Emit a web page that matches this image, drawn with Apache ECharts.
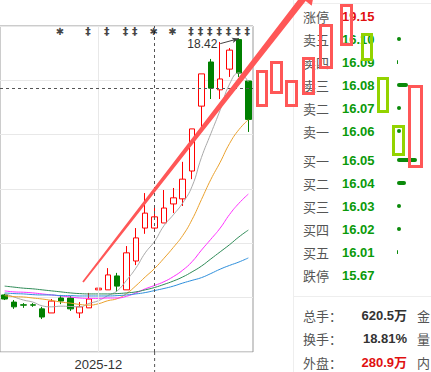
<!DOCTYPE html>
<html><head><meta charset="utf-8">
<script src="https://cdn.jsdelivr.net/npm/echarts@6/dist/echarts.min.js"></script>
<style>html,body{margin:0;padding:0;background:#fff;overflow:hidden}#c{width:431px;height:372px}</style>
</head><body><div id="c"></div>
<script>
// ---------- data ----------
const dates = ['2025-11-17','2025-11-18','2025-11-19','2025-11-20','2025-11-21','2025-11-24','2025-11-25','2025-11-26','2025-11-27','2025-11-28',
  '2025-12-01','2025-12-02','2025-12-03','2025-12-04','2025-12-05','2025-12-08','2025-12-09','2025-12-10','2025-12-11','2025-12-12',
  '2025-12-15','2025-12-16','2025-12-17','2025-12-18','2025-12-19','2025-12-22','2025-12-23'];
const opens  = [10.88,10.67,10.59,10.59,10.47,10.35,10.79,10.79,10.35,10.50,11.03,11.03,11.44,11.03,11.88,12.85,12.85,13.00,13.56,13.71,14.53,16.44,17.74,16.92,17.53,18.40,17.18];
const closes = [10.76,10.53,10.58,10.58,10.23,10.70,10.70,10.47,10.53,10.76,11.08,11.47,11.14,12.12,12.56,13.29,13.18,13.44,13.74,14.29,15.77,17.39,16.97,17.24,18.09,17.41,16.05];
const lows   = [10.73,10.47,10.50,10.53,10.17,10.35,10.61,10.41,10.20,10.50,10.97,11.03,10.97,11.03,11.76,12.68,12.79,13.00,13.29,13.50,14.29,15.74,16.65,16.65,17.30,17.30,15.68];
const highs  = [10.91,10.73,10.64,10.64,10.53,10.76,10.88,10.85,10.67,10.94,11.35,11.67,11.53,12.32,12.85,13.88,13.47,13.97,14.03,14.80,15.77,17.39,17.83,18.33,18.15,18.42,17.18];
const ma5  = [10.92,10.82,10.73,10.67,10.56,10.53,10.55,10.54,10.53,10.63,10.71,10.86,11.00,11.31,11.67,12.12,12.46,12.92,13.24,13.59,14.08,14.93,15.63,16.33,17.09,17.42,17.15];
const ma10 = [10.86,10.83,10.82,10.79,10.76,10.72,10.67,10.64,10.60,10.58,10.62,10.71,10.77,10.92,11.15,11.41,11.66,11.96,12.28,12.63,13.10,13.69,14.28,14.79,15.34,15.75,16.04];
const ma20 = [11.00,10.97,10.96,10.94,10.91,10.88,10.85,10.82,10.79,10.78,10.78,10.79,10.79,10.84,10.94,11.06,11.16,11.27,11.42,11.61,11.86,12.20,12.52,12.85,13.25,13.58,13.85];
const ma30 = [11.14,11.11,11.08,11.06,11.03,11.00,10.97,10.94,10.92,10.91,10.91,10.91,10.92,10.94,10.97,11.03,11.10,11.19,11.29,11.41,11.56,11.73,11.94,12.15,12.36,12.59,12.79];
const ma60 = [10.94,10.92,10.91,10.89,10.88,10.88,10.86,10.86,10.85,10.85,10.85,10.85,10.86,10.88,10.91,10.95,11.01,11.07,11.14,11.23,11.31,11.39,11.51,11.64,11.75,11.85,11.97];
const xTickLabels = {'2025-12-01':'2025-12'};
const signals = {'2025-11-25':'✱','2025-11-28':'‡','2025-12-02':'‡','2025-12-04':'‡','2025-12-05':'‡','2025-12-09':'✱','2025-12-11':'✱',
  '2025-12-15':'‡','2025-12-16':'‡','2025-12-17':'‡','2025-12-18':'‡','2025-12-19':'‡','2025-12-22':'‡','2025-12-23':'‡'};
const crossDate = '2025-12-09';
const crossPrice = 16.97;
// order book
const sellNames  = ['涨停','卖五','卖四','卖三','卖二','卖一'];
const sellPrices = ['19.15','16.10','16.09','16.08','16.07','16.06'];
const sellVolume = [null,4,1,11,4,4];      // relative size of the small bars
const buyNames   = ['买一','买二','买三','买四','买五','跌停'];
const buyPrices  = ['16.05','16.04','16.03','16.02','16.01','15.67'];
const buyVolume  = [20,9,4,4,1,null];
// stats
const statLabels  = ['总手：','换手：','外盘：'];
const statValues  = ['620.5万','18.81%','280.9万'];
const statLabels2 = ['金','量','内'];

// ---------- chart ----------
const GREEN = '#008000', RED = '#ff0000';
const chart = echarts.init(document.getElementById('c'), null, {renderer:'svg', width:431, height:372});
const candleData = dates.map((d,i)=>[opens[i],closes[i],lows[i],highs[i]]);
const maxHigh = Math.max(...highs);
const maxIdx = highs.indexOf(maxHigh);
const mas = [[ma5,'#a9a9a9'],[ma10,'#eba12c'],[ma20,'#ff30ff'],[ma30,'#2e8b57'],[ma60,'#2e8fdc']];
const markerRow = 18.63;

const CJK = '"Noto Sans CJK SC"';
function bookAxis(grid, names, prices, redFirst){
  return {gridIndex:grid, type:'category', inverse:true, data:names,
    axisLine:{show:false}, axisTick:{show:false}, splitLine:{show:false},
    axisLabel:{margin:94, align:'left',
      formatter:(v,i)=>'{n|'+v+'}{'+((redFirst && i===0)?'r':'p')+'|'+prices[i]+'}',
      rich:{n:{width:39,color:'#555',fontSize:13,fontFamily:CJK},
            p:{color:'#0a9a0a',fontWeight:'bold',fontSize:13,fontFamily:'Liberation Sans'},
            r:{color:'#e01010',fontWeight:'bold',fontSize:13,fontFamily:'Liberation Sans'}}}};
}

const series = [
  {type:'line', data:[], z:1, markLine:{silent:true, symbol:'none', animation:false, label:{show:false},
    data:[{xAxis:'2025-12-01', lineStyle:{color:'#e8e8e8', type:'solid', width:1}}]}},
  {type:'candlestick', data:candleData, barWidth:6, z:2,
    itemStyle:{color:'#ffffff', color0:GREEN, borderColor:RED, borderColor0:GREEN, borderWidth:1},
    markLine:{silent:true, animation:false, symbol:['none','arrow'], symbolSize:[4,7],
      lineStyle:{color:'#444', width:1, type:'solid'},
      label:{show:true, position:'start', formatter:maxHigh.toFixed(2), color:'#333', fontSize:12, lineHeight:11, distance:3, fontFamily:'Liberation Sans'},
      data:[[{coord:[dates[maxIdx-2], 18.28]},{coord:[dates[maxIdx], maxHigh+0.01]}]]}}
];
mas.forEach(([d,c])=>series.push({type:'line', data:d, symbol:'none', smooth:true, z:3,
  lineStyle:{color:c, width:1}}));
series.push({type:'line', data:[], z:6, markLine:{silent:true, symbol:'none', animation:false, label:{show:false},
  lineStyle:{color:'#555', type:[3,3], width:1},
  data:[{xAxis:crossDate},{yAxis:crossPrice}]}});
series.push({type:'scatter', z:7, symbolSize:0,
  data:dates.filter(d=>signals[d]).map(d=>({value:[d,markerRow],
    label:{formatter:signals[d], fontSize:signals[d]==='‡'?11:10}})),
  label:{show:true, position:'inside', color:'#111', fontWeight:'bold', lineHeight:9, offset:[-1,0], fontFamily:'DejaVu Sans'}});
series.push({type:'bar', xAxisIndex:1, yAxisIndex:2, data:sellVolume, barWidth:4,
  itemStyle:{color:'#0a8a0a', borderRadius:2}});
series.push({type:'bar', xAxisIndex:2, yAxisIndex:3, data:buyVolume, barWidth:4,
  itemStyle:{color:'#0a8a0a', borderRadius:2}});

// annotation overlays (hand-drawn marks in the reference)
const redBoxes = [[256,70,268,107],[270,61,283,94],[285,80,298,107],[302,57,315,95],[319,24,333,69],[340,4,353,46],[408,85,423,168]];
const greenBoxes = [[361,33,373,61],[377,77,389,113],[392,125,405,156]];
const box = (b,c)=>({type:'rect', z:100, silent:true,
  shape:{x:b[0]+1.5, y:b[1]+1.5, width:b[2]-b[0]-3, height:b[3]-b[1]-3},
  style:{fill:'none', stroke:c, lineWidth:3}});
const S=[83,282], E=[303,-1];
const dx=E[0]-S[0], dy=E[1]-S[1], L=Math.hypot(dx,dy), u=[dx/L,dy/L], n=[-u[1],u[0]];
const P=(p,k,v)=>[p[0]+k*v[0], p[1]+k*v[1]];
const arrowPts=[P(S,0.9,n),P(E,3.4,n),P(E,11,n),P(E,22,u),P(E,-11,n),P(E,-3.4,n),P(S,-0.9,n)];

const graphic = [
  {type:'line', z:0, silent:true, shape:{x1:293.5,y1:0,x2:293.5,y2:372}, style:{stroke:'#eeeeee', lineWidth:1}},
  {type:'line', z:0, silent:true, shape:{x1:293,y1:3.5,x2:431,y2:3.5}, style:{stroke:'#eeeeee', lineWidth:1}},
  {type:'line', z:0, silent:true, shape:{x1:293,y1:296.5,x2:431,y2:296.5}, style:{stroke:'#eeeeee', lineWidth:1}},
  {id:'crossExt', type:'line', z:50, silent:true, shape:{x1:0,y1:352,x2:0,y2:372}, style:{stroke:'#555', lineWidth:1, lineDash:[3,3]}}
];
const rowsY=[315,338,362];
statLabels.forEach((t,i)=>{
  graphic.push({type:'text', z:10, silent:true, style:{text:t, x:303, y:rowsY[i], verticalAlign:'middle', fill:'#555', fontSize:13, fontFamily:CJK}});
  graphic.push({type:'text', z:10, silent:true, style:{text:statValues[i], x:407, y:rowsY[i], align:'right', verticalAlign:'middle', fill:i===2?'#e01010':'#333', fontSize:13, fontWeight:'bold', fontFamily:'Liberation Sans, '+CJK}});
  graphic.push({type:'text', z:10, silent:true, style:{text:statLabels2[i], x:417, y:rowsY[i], verticalAlign:'middle', fill:'#555', fontSize:13, fontFamily:CJK}});
});
redBoxes.forEach(b=>graphic.push(box(b,'#ff5757')));
greenBoxes.forEach(b=>graphic.push(box(b,'#93d300')));
graphic.push({type:'polygon', z:101, silent:true, shape:{points:arrowPts}, style:{fill:'#ff5757'}});

chart.setOption({
  animation:false,
  backgroundColor:'#ffffff',
  grid:[
    {left:-1, top:26, width:254, height:326, show:true, borderColor:'#999', borderWidth:1},
    {left:397, top:4.5, width:30, height:138},
    {left:397, top:148.5, width:30, height:138}
  ],
  xAxis:[
    {gridIndex:0, type:'category', data:dates, boundaryGap:true,
      axisLine:{show:false}, axisTick:{show:false}, splitLine:{show:false},
      axisLabel:{interval:(i,v)=>v in xTickLabels, formatter:v=>xTickLabels[v]||'', color:'#333', fontSize:13, margin:6, fontFamily:'Liberation Sans'}},
    {gridIndex:1, type:'value', min:0, max:30, show:false},
    {gridIndex:2, type:'value', min:0, max:30, show:false}
  ],
  yAxis:[
    {gridIndex:0, type:'value', min:9.2, max:18.8, show:false, splitLine:{show:false}},
    {gridIndex:0, type:'value', min:0, max:6, interval:1, axisLine:{show:false}, axisTick:{show:false}, axisLabel:{show:false},
      splitLine:{show:true, lineStyle:{color:'#e8e8e8', width:1}}},
    bookAxis(1, sellNames, sellPrices, true),
    bookAxis(2, buyNames, buyPrices, false)
  ],
  series:series,
  graphic:graphic
});
const px = chart.convertToPixel({xAxisIndex:0}, crossDate);
chart.setOption({graphic:[{id:'crossExt', shape:{x1:px,y1:352,x2:px,y2:372}}]});
</script>
</body></html>
